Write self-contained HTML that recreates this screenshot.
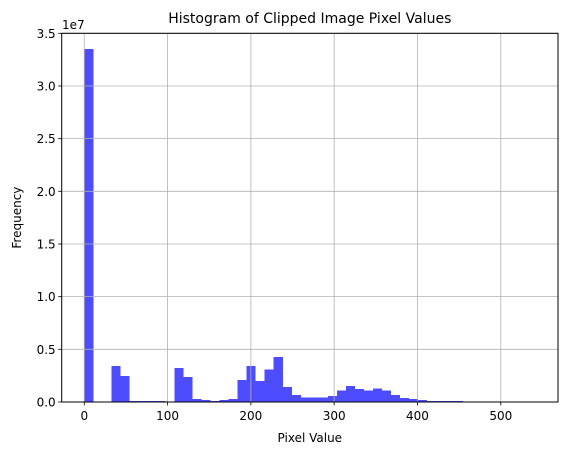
<!DOCTYPE html>
<html><head><meta charset="utf-8"><style>
html,body{margin:0;padding:0;background:#fff;}
svg{display:block;font-family:"DejaVu Sans","Liberation Sans",sans-serif;}
</style></head><body>
<svg id="chart" width="567" height="455" viewBox="0 0 567 455" xmlns="http://www.w3.org/2000/svg">
<rect x="0" y="0" width="567" height="455" fill="#fff"/>
<g id="bars" shape-rendering="crispEdges"></g>
<g id="grid"></g>
<rect x="61.7" y="33.3" width="496.3" height="368.7" fill="none" stroke="#000" stroke-width="1"/>
<g id="ticks"></g>
<text x="309.8" y="23" text-anchor="middle" font-size="14">Histogram of Clipped Image Pixel Values</text>
<text x="309.8" y="442" text-anchor="middle" font-size="12">Pixel Value</text>
<text x="0" y="0" transform="translate(21,217.6) rotate(-90)" text-anchor="middle" font-size="12">Frequency</text>
<text x="62" y="29" font-size="12">1e7</text>
</svg>
<script>
const binCount = 50;
const dataMin = 0;
const dataMax = 541.6;
const binCountsE7 = [3.35,0,0,0.342,0.247,0.008,0.008,0.008,0.008,0,
0.323,0.237,0.03,0.02,0.01,0.02,0.03,0.21,0.34,0.2,
0.31,0.427,0.142,0.066,0.045,0.045,0.045,0.055,0.11,0.15,
0.125,0.11,0.13,0.11,0.066,0.038,0.028,0.02,0.008,0.008,
0.008,0.008,0,0,0,0,0,0,0,0];
const xTicks = [0,100,200,300,400,500];
const yTicks = [0,0.5,1.0,1.5,2.0,2.5,3.0,3.5];
const yTickLabels = ["0.0","0.5","1.0","1.5","2.0","2.5","3.0","3.5"];

const L=61.7,R=558,T=33.3,B=402;
const xMin=-27.08,xMax=568.7,yMax=3.5;
const X=v=>L+(v-xMin)/(xMax-xMin)*(R-L);
const Y=v=>B-v/yMax*(B-T);
const NS="http://www.w3.org/2000/svg";
const barsG=document.getElementById('bars'),gridG=document.getElementById('grid'),tickG=document.getElementById('ticks');
const w=(dataMax-dataMin)/binCount;
binCountsE7.forEach((c,i)=>{
  if(c<=0)return;
  const r=document.createElementNS(NS,'rect');
  r.setAttribute('x',X(dataMin+i*w));r.setAttribute('width',X(dataMin+(i+1)*w)-X(dataMin+i*w));
  r.setAttribute('y',Y(c));r.setAttribute('height',B-Y(c));
  r.setAttribute('fill','#4d4dff');
  
  
  barsG.appendChild(r);
});
function ln(g,x1,y1,x2,y2,s,sw){const l=document.createElementNS(NS,'line');l.setAttribute('x1',x1);l.setAttribute('y1',y1);l.setAttribute('x2',x2);l.setAttribute('y2',y2);l.setAttribute('stroke',s);l.setAttribute('stroke-width',sw);g.appendChild(l);return l;}
function tx(x,y,s,a){const t=document.createElementNS(NS,'text');t.setAttribute('x',x);t.setAttribute('y',y);t.setAttribute('font-size','12');t.setAttribute('text-anchor',a);t.textContent=s;tickG.appendChild(t);return t;}
xTicks.forEach(v=>{
  const x=X(v);
  const g=ln(gridG,x,T,x,B,'#b0b0b0',0.8);
  
  
  ln(tickG,x,B,x,B+3.5,'#000',0.8);
  const t=tx(x,B+18,String(v),'middle');
  
  
});
yTicks.forEach((v,i)=>{
  const y=Y(v);
  const g=ln(gridG,L,y,R,y,'#b0b0b0',0.8);
  
  
  ln(tickG,L-3.5,y,L,y,'#000',0.8);
  const t=tx(L-6,y+4.5,yTickLabels[i],'end');
  
  
});
</script>
</body></html>
